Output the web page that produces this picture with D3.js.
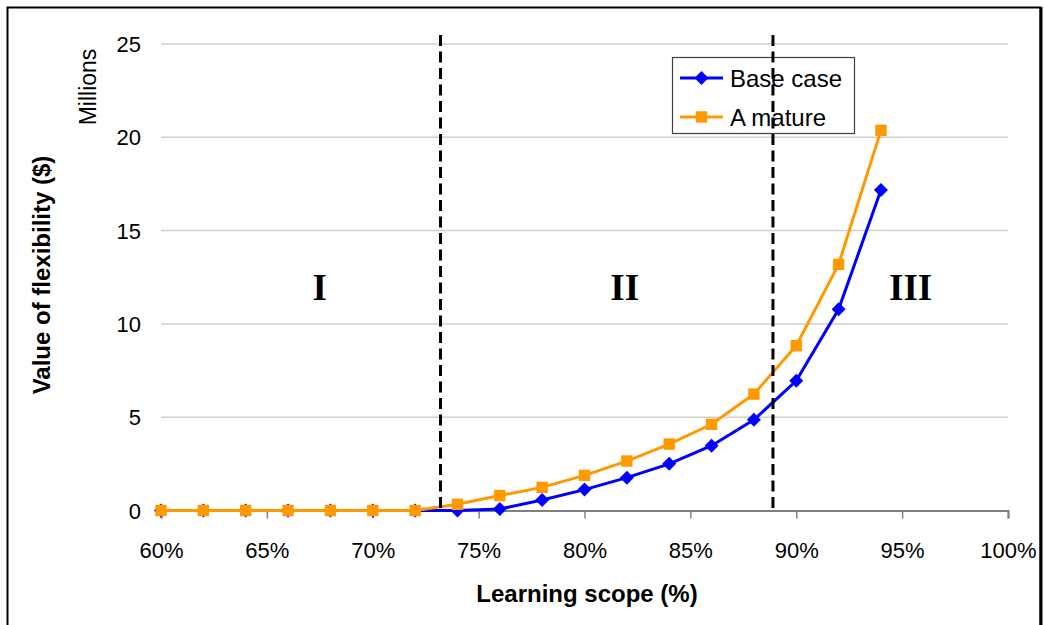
<!DOCTYPE html>
<html>
<head>
<meta charset="utf-8">
<script src="https://cdn.jsdelivr.net/npm/d3@7"></script>
<style>
  html, body { margin: 0; padding: 0; background: #fff; }
  svg { display: block; }
  text { font-family: "Liberation Sans", Arial, sans-serif; fill: #000; }
</style>
</head>
<body>
<svg id="chart" width="1044" height="625"></svg>
<script>
// Learning scope (%) on the x axis, value of flexibility in $ millions
const scope = [60, 62, 64, 66, 68, 70, 72, 74, 76, 78, 80, 82, 84, 86, 88, 90, 92, 94];
const baseCase = [0, 0, 0, 0, 0, 0, 0, 0, 0.08, 0.56, 1.12, 1.76, 2.5, 3.47, 4.86, 6.95, 10.78, 17.17];
const aMature = [0, 0, 0, 0, 0, 0, 0, 0.33, 0.8, 1.24, 1.88, 2.65, 3.56, 4.62, 6.24, 8.83, 13.19, 20.37];
const xTicks = [60, 65, 70, 75, 80, 85, 90, 95, 100];
const yTicks = [0, 5, 10, 15, 20, 25];
const regimeBounds = [73.2, 88.9];
const regimeNames = ["I", "II", "III"];
const regimeLabelX = [67.5, 81.9, 95.4];
const regimeLabelY = 11.3;

const svg = d3.select("#chart");

const x = d3.scaleLinear().domain([60, 100]).range([161, 1008]);
const y = d3.scaleLinear().domain([0, 25]).range([510.5, 44]);
const plotTop = 35;

// square diamond marker (equal width and height)
const diamond = {
  draw(ctx, size) {
    const r = Math.sqrt(size / 2);
    ctx.moveTo(0, -r); ctx.lineTo(r, 0); ctx.lineTo(0, r); ctx.lineTo(-r, 0); ctx.closePath();
  }
};

// outer frame
svg.append("rect")
  .attr("x", 7.5).attr("y", 7.5).attr("width", 1033).attr("height", 640)
  .attr("fill", "none").attr("stroke", "#000").attr("stroke-width", 2);
svg.append("line")
  .attr("x1", 1041).attr("x2", 1041).attr("y1", 7).attr("y2", 625)
  .attr("stroke", "#000").attr("stroke-width", 3);

// horizontal gridlines
svg.append("g").selectAll("line")
  .data(yTicks.filter(d => d > 0))
  .join("line")
  .attr("x1", x(60)).attr("x2", x(100))
  .attr("y1", d => y(d)).attr("y2", d => y(d))
  .attr("stroke", "#cfcfcf").attr("stroke-width", 1.5);

// y tick labels
svg.append("g").selectAll("text")
  .data(yTicks)
  .join("text")
  .attr("x", 141).attr("y", d => y(d) + 8)
  .attr("text-anchor", "end")
  .attr("font-size", 22)
  .text(d => d);

// x axis
const xAxis = d3.axisBottom(x)
  .tickValues(xTicks)
  .tickSize(8)
  .tickFormat(d => d + "%");
const gx = svg.append("g")
  .attr("transform", `translate(0,${y(0)})`)
  .call(xAxis);
gx.select(".domain").attr("stroke", "#808080").attr("stroke-width", 2);
gx.selectAll(".tick line").attr("stroke", "#808080").attr("stroke-width", 1.5);
gx.selectAll(".tick text")
  .attr("font-family", "Liberation Sans, Arial, sans-serif")
  .attr("font-size", 22)
  .attr("fill", "#000")
  .attr("dy", 0)
  .attr("y", 47);

// regime labels
svg.append("g").selectAll("text")
  .data(regimeNames)
  .join("text")
  .attr("x", (d, i) => x(regimeLabelX[i]))
  .attr("y", y(regimeLabelY))
  .attr("text-anchor", "middle")
  .style("font-family", "'Liberation Serif', 'Times New Roman', serif")
  .attr("font-weight", "bold")
  .attr("font-size", 37)
  .text(d => d);

// series
const line = d3.line().x(d => x(d[0])).y(d => y(d[1]));
const series = [
  { name: "Base case", values: baseCase, color: "#0000ff", shape: diamond, size: 98 },
  { name: "A mature", values: aMature, color: "#ff9900", shape: d3.symbolSquare, size: 130 }
];

series.forEach(s => {
  const pts = scope.map((v, i) => [v, s.values[i]]);
  svg.append("path")
    .datum(pts)
    .attr("d", line)
    .attr("fill", "none")
    .attr("stroke", s.color)
    .attr("stroke-width", 3);
  svg.append("g").selectAll("path")
    .data(pts)
    .join("path")
    .attr("transform", d => `translate(${x(d[0])},${y(d[1])})`)
    .attr("d", d3.symbol().type(s.shape).size(s.size))
    .attr("fill", s.color);
});

// legend
const legend = svg.append("g");
legend.append("rect")
  .attr("x", 672.5).attr("y", 57.5).attr("width", 182).attr("height", 76)
  .attr("fill", "#fff").attr("stroke", "#404040").attr("stroke-width", 1.2);
series.forEach((s, i) => {
  const cy = 78 + i * 39;
  legend.append("line")
    .attr("x1", 680).attr("x2", 723).attr("y1", cy).attr("y2", cy)
    .attr("stroke", s.color).attr("stroke-width", 3);
  legend.append("path")
    .attr("transform", `translate(701.5,${cy})`)
    .attr("d", d3.symbol().type(s.shape).size(s.size))
    .attr("fill", s.color);
  legend.append("text")
    .attr("x", 730).attr("y", cy + 9)
    .attr("font-size", 24)
    .text(s.name);
});

// regime boundaries, drawn on top of the legend
svg.append("g").selectAll("line")
  .data(regimeBounds)
  .join("line")
  .attr("x1", d => x(d)).attr("x2", d => x(d))
  .attr("y1", plotTop).attr("y2", y(0))
  .attr("stroke", "#000").attr("stroke-width", 3)
  .attr("stroke-dasharray", "11,5.5");

// axis titles
svg.append("text")
  .attr("x", 587).attr("y", 602)
  .attr("text-anchor", "middle")
  .attr("font-weight", "bold")
  .attr("font-size", 24)
  .text("Learning scope (%)");

svg.append("text")
  .attr("transform", "translate(50,275) rotate(-90)")
  .attr("text-anchor", "middle")
  .attr("font-weight", "bold")
  .attr("font-size", 24)
  .text("Value of flexibility ($)");

svg.append("text")
  .attr("transform", "translate(96,87) rotate(-90)")
  .attr("text-anchor", "middle")
  .attr("font-size", 23)
  .text("Millions");
</script>
</body>
</html>
